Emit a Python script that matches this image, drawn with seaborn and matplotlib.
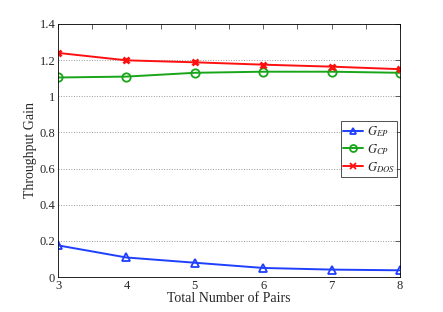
import pandas as pd
import matplotlib.pyplot as plt
import seaborn as sns
from matplotlib.ticker import MultipleLocator

# Dados
pairs = [3, 4, 5, 6, 7, 8]
gain_ep = [0.175, 0.108, 0.079, 0.050, 0.041, 0.037]
gain_cp = [1.104, 1.109, 1.130, 1.136, 1.136, 1.130]
gain_dos = [1.240, 1.199, 1.188, 1.175, 1.164, 1.150]
labels = ['$G_{EP}$', '$G_{CP}$', '$G_{DOS}$']
y_ticks = [0, 0.2, 0.4, 0.6, 0.8, 1, 1.2, 1.4]
y_tick_labels = ['0', '0.2', '0.4', '0.6', '0.8', '1', '1.2', '1.4']

dados = pd.DataFrame({
    'pairs': pairs * 3,
    'gain': gain_ep + gain_cp + gain_dos,
    'serie': [labels[0]] * 6 + [labels[1]] * 6 + [labels[2]] * 6,
})

sns.set_style('white')
plt.rcParams['font.family'] = ['Liberation Serif', 'DejaVu Serif']
plt.rcParams['mathtext.fontset'] = 'stix'

fig = plt.figure(figsize=(4.43, 3.12), dpi=100)
ax = fig.add_axes([58 / 443, 1 - 277 / 312, 342 / 443, 253 / 312])

ax = sns.lineplot(
    data=dados, x='pairs', y='gain', hue='serie', style='serie',
    palette=['#1f3fff', '#19a519', '#ff1010'],
    markers=['^', 'o', 'X'], dashes=False,
    markersize=6, linewidth=1.4, ax=ax,
)


def estilo_marcador(linha, tamanho):
    # Marcadores vazados com a cor da linha
    cor = linha.get_color()
    linha.set_markeredgecolor(cor)
    linha.set_markeredgewidth(1.3)
    linha.set_markersize(tamanho)
    if linha.get_marker() == 'X':
        linha.set_marker('x')
        linha.set_markeredgewidth(2)
        linha.set_markersize(tamanho - 1)
    else:
        linha.set_markerfacecolor('none')


for linha in ax.get_lines():
    estilo_marcador(linha, 6)

# Configurações do gráfico
ax.set_xlim(3, 8)
ax.set_ylim(0, 1.4)
ax.xaxis.set_major_locator(MultipleLocator(1))
ax.xaxis.set_minor_locator(MultipleLocator(0.5))
ax.set_yticks(y_ticks)
ax.set_yticklabels(y_tick_labels)
ax.tick_params(which='both', direction='in', top=True, right=True,
               length=3.5, width=0.5, labelsize=9, pad=2)
ax.yaxis.grid(True, linestyle=':', color='#999999', linewidth=0.7)
for s in ax.spines.values():
    s.set_color('black')
    s.set_linewidth(0.6)

ax.set_xlabel('Total Number of Pairs', fontsize=10, labelpad=0)
ax.set_ylabel('Throughput Gain', fontsize=10, labelpad=2)

handles, _ = ax.get_legend_handles_labels()
for h in handles:
    estilo_marcador(h, 5)
leg = ax.legend(handles, labels, loc='center right', bbox_to_anchor=(1.0, 0.505),
                fontsize=9, frameon=True, fancybox=False, edgecolor='black',
                handlelength=1.6, borderpad=0.2, labelspacing=0.25,
                handletextpad=0.3, borderaxespad=0.2)
leg.get_frame().set_linewidth(0.6)

plt.savefig('out.png', dpi=100)
